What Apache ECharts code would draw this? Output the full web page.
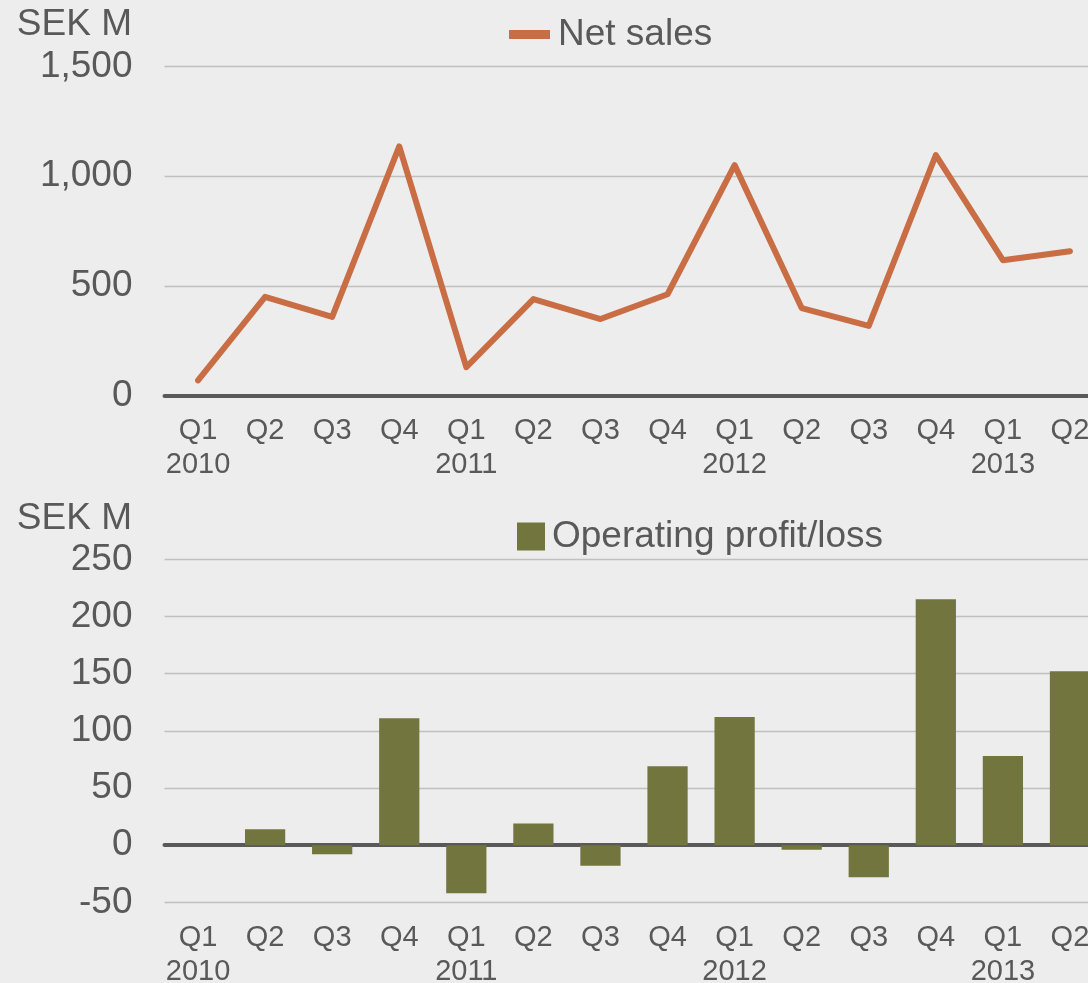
<!DOCTYPE html>
<html>
<head>
<meta charset="utf-8">
<script src="https://cdn.jsdelivr.net/npm/echarts@6/dist/echarts.min.js"></script>
<style>
  html, body { margin: 0; padding: 0; background: #ededed; }
  #chart { width: 1088px; height: 983px; }
</style>
</head>
<body>
<div id="chart"></div>
<script>
// quarters and years on the x axis
const quarters = ['Q1', 'Q2', 'Q3', 'Q4', 'Q1', 'Q2', 'Q3', 'Q4', 'Q1', 'Q2', 'Q3', 'Q4', 'Q1', 'Q2'];
const years = ['2010', '', '', '', '2011', '', '', '', '2012', '', '', '', '2013', ''];

// net sales, SEK M
const netSales = [70, 450, 359, 1135, 130, 440, 349, 462, 1050, 399, 318, 1096, 617, 658];
// operating profit/loss, SEK M
const operatingProfit = [0, 14, -8, 111, -42, 19, -18, 69, 112, -4, -28, 215, 78, 152];

// y ticks
const salesTicks = [0, 500, 1000, 1500];
const salesTickLabels = ['0', '500', '1,000', '1,500'];
const profitTicks = [-50, 0, 50, 100, 150, 200, 250];
const profitTickLabels = ['-50', '0', '50', '100', '150', '200', '250'];

const categories = quarters.map((q, i) => years[i] ? q + '\n' + years[i] : q);

const FONT = 'Liberation Sans, Arial, sans-serif';
const TEXT = '#595959';

const chart = echarts.init(document.getElementById('chart'));

const xAxisLabel = (margin) => ({
  interval: 0,
  color: TEXT,
  fontFamily: FONT,
  fontSize: 29,
  lineHeight: 34,
  margin: margin
});

const yAxisBase = {
  type: 'value',
  axisLine: { show: false },
  axisTick: { show: false },
  splitLine: { lineStyle: { color: '#c0c0c0', width: 1.3 } }
};

const option = {
  backgroundColor: '#ededed',
  animation: false,
  textStyle: { fontFamily: FONT },
  graphic: [
    {
      type: 'text', x: 132, y: 25,
      style: { text: 'SEK M', fill: TEXT, font: '37px ' + FONT, textAlign: 'right', textVerticalAlign: 'middle' }
    },
    {
      type: 'text', x: 132, y: 519,
      style: { text: 'SEK M', fill: TEXT, font: '37px ' + FONT, textAlign: 'right', textVerticalAlign: 'middle' }
    }
  ],
  legend: [
    {
      data: ['Net sales'],
      left: 504,
      top: 11,
      icon: 'rect',
      itemWidth: 41,
      itemHeight: 9,
      textStyle: { color: TEXT, fontSize: 37, fontFamily: FONT, padding: [0, 0, 0, 3] }
    },
    {
      data: ['Operating profit/loss'],
      left: 512,
      top: 513,
      icon: 'rect',
      itemWidth: 28,
      itemHeight: 28,
      textStyle: { color: TEXT, fontSize: 37, fontFamily: FONT, padding: [0, 0, 0, 2] }
    }
  ],
  grid: [
    { left: 164.5, width: 939, top: 66.3, height: 329.4, outerBoundsMode: 'none', containLabel: false },
    { left: 164.5, width: 939, top: 559.3, height: 343, outerBoundsMode: 'none', containLabel: false }
  ],
  xAxis: [
    {
      type: 'category', gridIndex: 0, data: categories,
      axisLine: { lineStyle: { color: TEXT, width: 4 } },
      axisTick: { show: false },
      axisLabel: xAxisLabel(18)
    },
    {
      // labels along the bottom of the profit chart
      type: 'category', gridIndex: 1, data: categories,
      axisLine: { show: false, onZero: false },
      axisTick: { show: false },
      axisLabel: xAxisLabel(19)
    },
    {
      // zero line of the profit chart
      type: 'category', gridIndex: 1, data: categories,
      axisLine: { onZero: true, lineStyle: { color: TEXT, width: 4 } },
      axisTick: { show: false },
      axisLabel: { show: false }
    }
  ],
  yAxis: [
    Object.assign({}, yAxisBase, {
      gridIndex: 0,
      min: salesTicks[0],
      max: salesTicks[salesTicks.length - 1],
      interval: salesTicks[1] - salesTicks[0],
      axisLabel: {
        color: TEXT, fontSize: 37, fontFamily: FONT, margin: 32,
        formatter: (v, i) => salesTickLabels[i]
      }
    }),
    Object.assign({}, yAxisBase, {
      gridIndex: 1,
      min: profitTicks[0],
      max: profitTicks[profitTicks.length - 1],
      interval: profitTicks[1] - profitTicks[0],
      axisLabel: {
        color: TEXT, fontSize: 37, fontFamily: FONT, margin: 32,
        formatter: (v, i) => profitTickLabels[i]
      }
    })
  ],
  series: [
    {
      name: 'Net sales',
      type: 'line',
      xAxisIndex: 0,
      yAxisIndex: 0,
      data: netSales,
      showSymbol: false,
      symbol: 'none',
      color: '#c96d44',
      lineStyle: { width: 6, color: '#c96d44', cap: 'round', join: 'round' }
    },
    {
      name: 'Operating profit/loss',
      type: 'bar',
      xAxisIndex: 2,
      yAxisIndex: 1,
      data: operatingProfit,
      barWidth: '60%',
      color: '#72753d',
      itemStyle: { color: '#72753d' }
    }
  ]
};

chart.setOption(option);
</script>
</body>
</html>
